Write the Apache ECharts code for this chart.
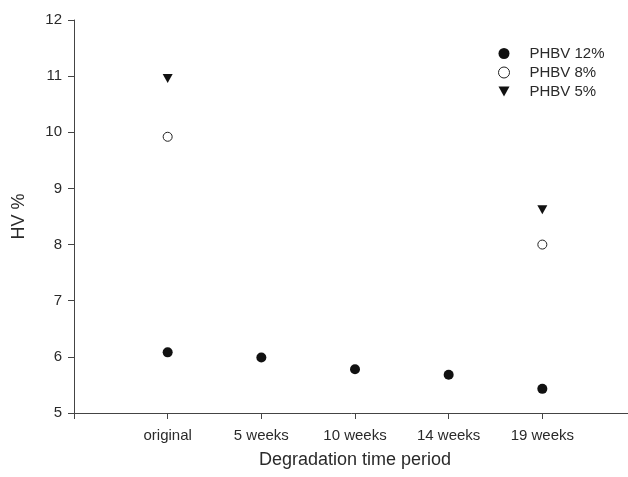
<!DOCTYPE html>
<html><head><meta charset="utf-8">
<script src="https://cdn.jsdelivr.net/npm/echarts@6/dist/echarts.min.js"></script>
<style>html,body{margin:0;padding:0;background:#fff}#c{width:628px;height:477px}</style>
</head><body><div id="c"></div>
<script>
const categories = ['original', '5 weeks', '10 weeks', '14 weeks', '19 weeks'];
const phbv12 = [6.08, 5.99, 5.78, 5.68, 5.43];
const phbv8 = [9.92, null, null, null, 8.0];
const phbv5 = [10.96, null, null, null, 8.62];
const yTicks = [5, 6, 7, 8, 9, 10, 11, 12];

const tri = 'path://M0,0 L10,0 L5,9 Z';
function pts(arr){ const o=[]; arr.forEach((v,i)=>{ if(v!=null) o.push([i+1,v]); }); return o; }
const font = '"Liberation Sans", Arial, sans-serif';
const txt = '#2a2a2a';
const chart = echarts.init(document.getElementById('c'));
chart.setOption({
  animation:false,
  backgroundColor:'#fff',
  grid:{left:74, top:20, right:-8, bottom:64, containLabel:false, outerBoundsMode:'none'},
  legend:{
    orient:'vertical', left:493, top:41, itemGap:4, itemWidth:11, itemHeight:11,
    textStyle:{fontFamily:font, fontSize:15, color:txt, padding:[0,0,0,15]},
    data:[
      {name:'PHBV 12%', icon:'circle', itemStyle:{color:'#111', borderWidth:0, opacity:1}},
      {name:'PHBV 8%', icon:'circle', itemStyle:{color:'#fff', borderColor:'#222', borderWidth:1, opacity:1}},
      {name:'PHBV 5%', icon:tri, itemStyle:{color:'#111', borderWidth:0, opacity:1}}
    ]
  },
  xAxis:{
    type:'value', min:0, max:6, interval:1,
    name:'Degradation time period', nameLocation:'middle', nameGap:38,
    nameTextStyle:{fontFamily:font, fontSize:18, color:txt},
    axisLine:{lineStyle:{color:'#444', width:1}},
    axisTick:{show:true, length:6, lineStyle:{color:'#444'}},
    splitLine:{show:false},
    axisLabel:{fontFamily:font, fontSize:15, color:txt, margin:15,
      formatter:v=> (v>=1 && v<=5) ? categories[v-1] : ''}
  },
  yAxis:{
    type:'value', min:5, max:12, interval:1,
    name:'HV %', nameLocation:'middle', nameGap:46,
    nameTextStyle:{fontFamily:font, fontSize:18, color:txt},
    axisLine:{show:true, lineStyle:{color:'#444', width:1}},
    axisTick:{show:true, length:6, lineStyle:{color:'#444'}},
    splitLine:{show:false},
    axisLabel:{fontFamily:font, fontSize:15, color:txt, margin:12}
  },
  series:[
    {name:'PHBV 12%', type:'scatter', symbol:'circle', symbolSize:10,
     itemStyle:{color:'#111', opacity:1}, data:pts(phbv12)},
    {name:'PHBV 8%', type:'scatter', symbol:'circle', symbolSize:9,
     itemStyle:{color:'#fff', borderColor:'#222', borderWidth:1, opacity:1}, data:pts(phbv8)},
    {name:'PHBV 5%', type:'scatter', symbol:tri, symbolSize:[10,9],
     itemStyle:{color:'#111', opacity:1}, data:pts(phbv5)}
  ]
});
</script></body></html>
